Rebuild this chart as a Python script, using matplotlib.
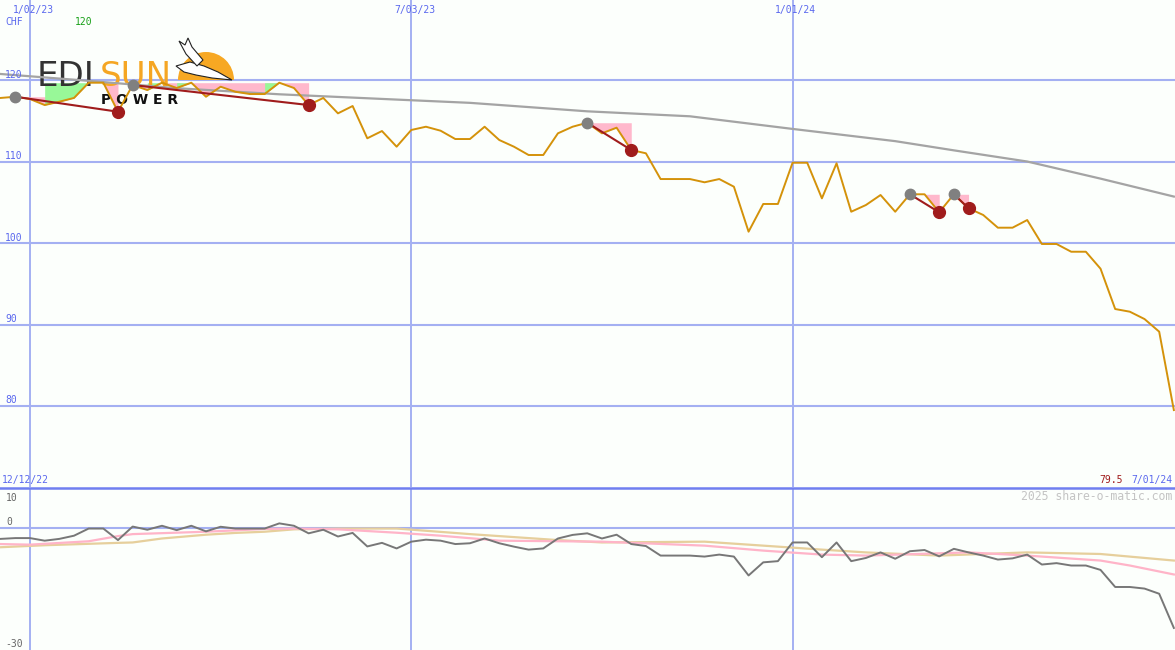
import numpy as np
import pandas as pd
import matplotlib
matplotlib.use("Agg")
import matplotlib.pyplot as plt
import matplotlib.dates as mdates
import matplotlib.transforms as mtransforms
from matplotlib.patches import Wedge, Polygon
from matplotlib.lines import Line2D

# weekly closes in CHF
weeks = pd.date_range("2022-12-19", periods=81, freq="7D")
price = [117.8, 117.95, 117.67, 116.93, 117.34, 117.8, 119.67, 119.67, 116.11, 119.39,
         118.77, 119.67, 119.02, 119.67, 117.95, 119.18, 118.56, 118.28, 118.28, 119.67,
         119.02, 116.93, 117.8, 115.91, 116.81, 112.85, 113.74, 111.82, 113.87, 114.27,
         113.78, 112.76, 112.76, 114.27, 112.64, 111.82, 110.8, 110.8, 113.46, 114.27,
         114.76, 113.46, 114.15, 111.41, 111.01, 107.85, 107.85, 107.85, 107.45, 107.85,
         106.91, 101.39, 104.79, 104.79, 109.85, 109.85, 105.48, 109.78, 103.84, 104.66,
         105.89, 103.84, 105.98, 105.98, 103.77, 105.98, 104.26, 103.44, 101.88, 101.88,
         102.82, 99.88, 99.88, 98.93, 98.93, 96.85, 91.9, 91.57, 90.67, 89.12, 79.5]

# long moving average, read at a few weeks
ma_weeks = [0, 6, 12, 19, 27, 32, 40, 47, 54, 61, 65, 70, 75, 80]
ma_vals = [120.74, 119.9, 119.0, 118.25, 117.6, 117.2, 116.16, 115.55, 114.0, 112.5,
           111.37, 110.0, 107.9, 105.7]

# lower panel: distance from long average (%) and two smoothed lines
dev = [-2.8, -2.6, -2.6, -3.25, -2.8, -2.0, -0.2, -0.2, -3.1, 0.3,
       -0.5, 0.5, -0.6, 0.5, -0.9, 0.25, -0.2, -0.2, -0.2, 1.1,
       0.5, -1.4, -0.5, -2.2, -1.3, -4.7, -3.8, -5.2, -3.5, -3.0,
       -3.25, -4.1, -3.9, -2.7, -3.9, -4.75, -5.5, -5.2, -2.7, -1.8,
       -1.4, -2.7, -1.75, -4.1, -4.6, -7.0, -7.0, -7.0, -7.25, -6.75,
       -7.25, -12.0, -8.7, -8.4, -3.7, -3.7, -7.4, -3.7, -8.4, -7.6,
       -6.2, -7.8, -5.9, -5.6, -7.2, -5.3, -6.2, -7.0, -8.0, -7.7,
       -6.75, -9.25, -8.9, -9.5, -9.5, -10.6, -14.9, -14.9, -15.3, -16.6, -25.2]
pink_weeks = [0, 2, 6, 8, 9, 14, 18, 20, 23, 27, 30, 34, 41, 48, 52, 56, 59, 66, 70, 75, 77, 80]
pink_vals = [-4.1, -4.25, -3.4, -2.1, -1.6, -1.0, -0.3, -0.2, -0.4, -1.25, -2.0,
             -3.25, -3.5, -4.5, -5.75, -6.75, -7.0, -6.2, -7.0, -8.25, -9.5, -11.75]
tan_weeks = [0, 3, 8, 9, 11, 14, 16, 18, 20, 23, 27, 32, 38, 41, 48, 52, 56, 59, 64, 70, 75, 80]
tan_vals = [-4.9, -4.4, -3.8, -3.7, -2.7, -1.75, -1.3, -1.0, -0.4, -0.2, -0.2,
            -1.6, -3.1, -3.7, -3.5, -4.5, -5.5, -6.2, -7.0, -6.2, -6.6, -8.25]

# drawdown legs (peak week, trough week)
legs = [(1, 8), (9, 21), (40, 43), (62, 64), (65, 66)]

grid_dates = ["2023-01-02", "2023-07-03", "2024-01-01"]
grid_labels = ["1/02/23", "7/03/23", "1/01/24"]
top_levels = [120, 110, 100, 90, 80]

BG = "#fcfffc"
GRID = "#a4b0f2"
BLUE = "#5a68ee"
ORANGE = "#d4920a"
DARKRED = "#a01c1c"
PINK = "#ffb8cc"
GREEN = "#98f898"
MONO = "DejaVu Sans Mono"

W, H = 1175, 650
fig = plt.figure(figsize=(W / 100, H / 100), dpi=100, facecolor=BG)
split = 487
ax = fig.add_axes([0, 1 - split / H, 1, split / H])
axb = fig.add_axes([0, 0, 1, (H - split - 1) / H])
ov = fig.add_axes([0, 0, 1, 1], zorder=10)
ov.set_xlim(0, W)
ov.set_ylim(H, 0)
ov.axis("off")

x = mdates.date2num(weeks)
p = np.array(price)
gx = mdates.date2num(pd.to_datetime(grid_dates))

for a in (ax, axb):
    a.set_facecolor("none")
    a.set_xlim(x[0] - 0.32, x[-1] + 0.55)
    for s in a.spines.values():
        s.set_visible(False)
    a.set_xticks([])
    a.set_yticks([])
    for g in gx:
        a.axvline(g, color=GRID, lw=1.4, zorder=0)

ax.set_ylim(70.06, 129.82)
axb.set_ylim(-30.75, 10)

for lv in top_levels:
    ax.axhline(lv, color=GRID, lw=1.5, zorder=0)
axb.axhline(0, color=GRID, lw=1.5, zorder=0)
fig.add_artist(Line2D([0, 1], [1 - (split + 0.5) / H] * 2, color="#6f7ff0", lw=1.8))

# drawdown shading: pink below the running high, green for the climb back to a high
for pk, tr in legs:
    xs, ps = x[pk:tr + 1], p[pk:tr + 1]
    run = np.maximum.accumulate(ps)
    ax.fill_between(xs, ps, run, color=PINK, lw=0, zorder=1)
    for j in range(1, len(ps)):
        if ps[j] >= run[j - 1] and ps[j] > ps[j - 1]:
            m = j - 1
            while m > 0 and ps[m - 1] < ps[m]:
                m -= 1
            ax.fill_between(xs[m:j + 1], ps[m:j + 1], ps[j], color=GREEN, lw=0, zorder=1)

# logo (behind the lines)
pix = ov.transData
ax.add_patch(Wedge((206, 80), 28, 180, 360, color="#f7a823", transform=pix, zorder=2, lw=0))
ax.add_patch(Polygon([(176, 66), (190, 62), (204, 66), (218, 72), (232, 80), (212, 78),
                      (196, 75), (184, 72)], closed=True, facecolor="white",
                     edgecolor="#222222", lw=0.8, transform=pix, zorder=2))
ax.add_patch(Polygon([(197, 66), (186, 54), (179, 41), (185, 45), (188, 38), (192, 47),
                      (203, 60)], closed=True, facecolor="white",
                     edgecolor="#222222", lw=0.8, transform=pix, zorder=2))
ax.text(37, 85.5, "EDI", transform=pix, fontsize=24.5, color="#333333",
        family="DejaVu Sans", va="baseline", zorder=2)
ax.text(100, 85.5, "SUN", transform=pix, fontsize=24.5, color="#f5a623",
        family="DejaVu Sans", va="baseline", zorder=2)
ax.text(101, 104, "P O W E R", transform=pix, fontsize=10, color="#111111",
        family="DejaVu Sans", weight="bold", va="baseline", zorder=2)

# lines
ax.plot(x[ma_weeks], ma_vals, color="#a4a4a4", lw=1.6, zorder=3)
ax.plot(x, p, color=ORANGE, lw=1.4, zorder=4)
for pk, tr in legs:
    ax.plot(x[[pk, tr]], p[[pk, tr]], color=DARKRED, lw=1.5, zorder=5)
    ax.plot(x[pk], p[pk], "o", ms=7.5, color="#808080", zorder=6)
    ax.plot(x[tr], p[tr], "o", ms=8.5, color=DARKRED, zorder=6)

axb.plot(x[tan_weeks], tan_vals, color="#e6cf9c", lw=1.6, zorder=2)
axb.plot(x[pink_weeks], pink_vals, color="#ffb4c8", lw=1.6, zorder=2)
axb.plot(x, dev, color="#777777", lw=1.4, zorder=3)

# labels
top_x = mtransforms.blended_transform_factory(ax.transData, pix)
for g, lab in zip(gx, grid_labels):
    ov.text(g + 1.5, 13, lab, transform=top_x, ha="center", va="baseline",
            fontsize=7, family=MONO, color=BLUE)
ov.text(5, 25, "CHF", fontsize=7, family=MONO, color=BLUE, va="baseline")
ov.text(75, 25, f"{max(price[:12]):.0f}", fontsize=7, family=MONO, color="#18a018",
        va="baseline")

lvl_y = mtransforms.blended_transform_factory(pix, ax.transData)
for lv in top_levels:
    ov.annotate(f"{lv}", xy=(5, lv), xycoords=lvl_y, xytext=(0, 2.5),
                textcoords="offset pixels", fontsize=7, family=MONO, color=BLUE,
                va="baseline")

ov.text(2, 483, "12/12/22", fontsize=7, family=MONO, color=BLUE, va="baseline")
ov.text(1172, 483, f"{weeks[-1].month}/{weeks[-1].day:02d}/{weeks[-1]:%y}", fontsize=7,
        family=MONO, color=BLUE, va="baseline", ha="right")
ov.text(1123, 483, f"{price[-1]}", fontsize=7, family=MONO, color=DARKRED,
        va="baseline", ha="right")
ov.text(1172, 500, "2025 share-o-matic.com", fontsize=8.3, family=MONO, color="#c4c4c4",
        va="baseline", ha="right")

bot_y = mtransforms.blended_transform_factory(pix, axb.transData)
ov.annotate("10", xy=(6, 10), xycoords=bot_y, xytext=(0, -13), textcoords="offset pixels",
            fontsize=7, family=MONO, color="#666666", va="baseline")
ov.annotate("0", xy=(6, 0), xycoords=bot_y, xytext=(0, 2.5), textcoords="offset pixels",
            fontsize=7, family=MONO, color="#666666", va="baseline")
ov.annotate("-30", xy=(5, -30), xycoords=bot_y, xytext=(0, 0), textcoords="offset pixels",
            fontsize=7, family=MONO, color="#666666", va="baseline")

fig.savefig("out.png", dpi=100, facecolor=BG)
